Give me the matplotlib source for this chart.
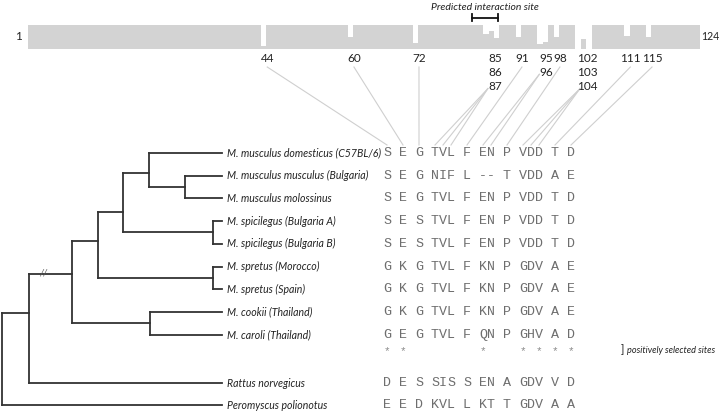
import numpy as np
import matplotlib.pyplot as plt

# residue profile along the 124-aa protein (1 = full bar)
n_res = 124
notch_res = [44, 60, 72, 85, 86, 87, 91, 95, 96, 98, 102, 103, 104, 111, 115]
notch_h = [0.12, 0.5, 0.27, 0.62, 0.75, 0.45, 0.52, 0.2, 0.3, 0.52, 0.0, 0.42, 0.0, 0.55, 0.5]
label_groups = [[44], [60], [72], [85, 86, 87], [91], [95, 96], [98],
                [102, 103, 104], [111], [115]]
site = (82, 87)
selected = [44, 60, 95, 102, 104, 111, 115]

species = ["M. musculus domesticus (C57BL/6)", "M. musculus musculus (Bulgaria)",
           "M. musculus molossinus", "M. spicilegus (Bulgaria A)",
           "M. spicilegus (Bulgaria B)", "M. spretus (Morocco)", "M. spretus (Spain)",
           "M. cookii (Thailand)", "M. caroli (Thailand)"]
seqs = ["S E G TVL F EN P VDD T D",
        "S E G NIF L -- T VDD A E",
        "S E G TVL F EN P VDD T D",
        "S E S TVL F EN P VDD T D",
        "S E S TVL F EN P VDD T D",
        "G K G TVL F KN P GDV A E",
        "G K G TVL F KN P GDV A E",
        "G K G TVL F KN P GDV A E",
        "G E G TVL F QN P GHV A D"]
out_species = ["Rattus norvegicus", "Peromyscus polionotus"]
out_seqs = ["D E S SIS S EN A GDV V D",
            "E E D KVL L KT T GDV A A"]

# tree topology: (x, frac, children); ints are leaf rows
tree = (2, 0.5, [(29, 0.36, [(72, 0.4, [(98, 0.44, [(123, 0.66, [(149, 0.6, [0, (185, 0.5, [1, 2])]),
                                                                  (213, 0.5, [3, 4])]),
                                                      (213, 0.5, [5, 6])]),
                                           (150, 0.5, [7, 8])]),
                                 9]),
                     10])

W, H = 720, 415
fig = plt.figure(figsize=(W / 100, H / 100), dpi=100)
ax = fig.add_axes([0, 0, 1, 1])
ax.set_xlim(0, W)
ax.set_ylim(H, 0)
ax.axis('off')

ax_bar = fig.add_axes([28 / W, 1 - 49 / H, 672 / W, 24 / H])
heights = np.ones(n_res)
heights[np.array(notch_res) - 1] = notch_h
ax_bar.bar(np.arange(1, n_res + 1), heights, width=1.0, color='#d3d3d3', linewidth=0)
ax_bar.set_xlim(0.5, n_res + 0.5)
ax_bar.set_ylim(0, 1)
ax_bar.axis('off')


def res_px(r):
    return ax_bar.transData.transform((r, 0))[0]


sans = 'Lato'
txt = '#222222'
ax.text(res_px(0.5) - 10, 37, '1', ha='center', va='center', fontsize=8.5, family=sans, color=txt)
ax.text(719, 37, '124', ha='right', va='center', fontsize=7.6, family=sans, color=txt)

# interaction site bracket
x1, x2 = res_px(site[0] + 0.4), res_px(site[1] + 0.3)
ax.plot([x1, x2], [18, 18], color='#111111', lw=1.3)
ax.plot([x1, x1], [14.5, 21.5], color='#111111', lw=1.3)
ax.plot([x2, x2], [14.5, 21.5], color='#111111', lw=1.3)
ax.text((x1 + x2) / 2, 7, 'Predicted interaction site', ha='center', va='center',
        fontsize=7.5, style='italic', family=sans, color=txt)

# alignment geometry
x0 = 387
adv = 8.0
row_y = [153 + 22.7 * i for i in range(len(species))] + [383, 405]
star_y = 350
cols = [i for i, c in enumerate(seqs[0]) if c != ' ']
col_of = dict(zip(notch_res, cols))
mono = 'Liberation Mono'
seq_col = '#6e6e6e'

# residue labels and connector lines
lab_y0, lab_dy = 58, 14.3
for grp in label_groups:
    lx = res_px(np.mean(grp)) + 3.5
    for k, r in enumerate(grp):
        ax.text(lx, lab_y0 + k * lab_dy, str(r), ha='center', va='center',
                fontsize=8.5, family=sans, color=txt)
    if len(grp) > 1:
        sx, sy = lx - 7, lab_y0 + (len(grp) - 1) * lab_dy + 2
    else:
        sx, sy = lx, lab_y0 + 9
    for r in grp:
        tx = x0 + col_of[r] * adv
        ax.plot([sx, tx], [sy, row_y[0] - 8], color='#cfcfcf', lw=0.8)

all_seqs = seqs + out_seqs
for y, s in zip(row_y, all_seqs):
    for c, ch in enumerate(s):
        if ch != ' ':
            ax.text(x0 + c * adv, y, ch, ha='center', va='center', fontsize=9.6,
                    family=mono, color=seq_col)
for r in selected:
    ax.text(x0 + col_of[r] * adv, star_y + 1, '*', ha='center', va='center', fontsize=8,
            family=mono, color='#8a8a8a')
ax.text(622, star_y, ']', ha='center', va='center', fontsize=8, family=sans, color=txt)
ax.text(627, star_y, 'positively selected sites', ha='left', va='center', fontsize=6.6,
        style='italic', family=sans, color=txt)

# species labels
leaf_end = 222
for y, name in zip(row_y, species + out_species):
    ax.text(227, y, name, ha='left', va='center', fontsize=7.6, style='italic',
            family=sans, color=txt)

tree_kw = dict(color='#333333', lw=1.3, solid_capstyle='projecting')


def draw(node):
    x, frac, kids = node
    ys = []
    for k in kids:
        if isinstance(k, int):
            ky = row_y[k]
            ax.plot([x, leaf_end], [ky, ky], **tree_kw)
        else:
            ky = draw(k)
            ax.plot([x, k[0]], [ky, ky], **tree_kw)
        ys.append(ky)
    ax.plot([x, x], [min(ys), max(ys)], **tree_kw)
    return ys[0] + frac * (ys[-1] - ys[0])


draw(tree)
ax.text(43, 273, '//', ha='center', va='center', fontsize=7, style='italic',
        family=sans, color='#555555')

fig.savefig('out.png', dpi=100)
